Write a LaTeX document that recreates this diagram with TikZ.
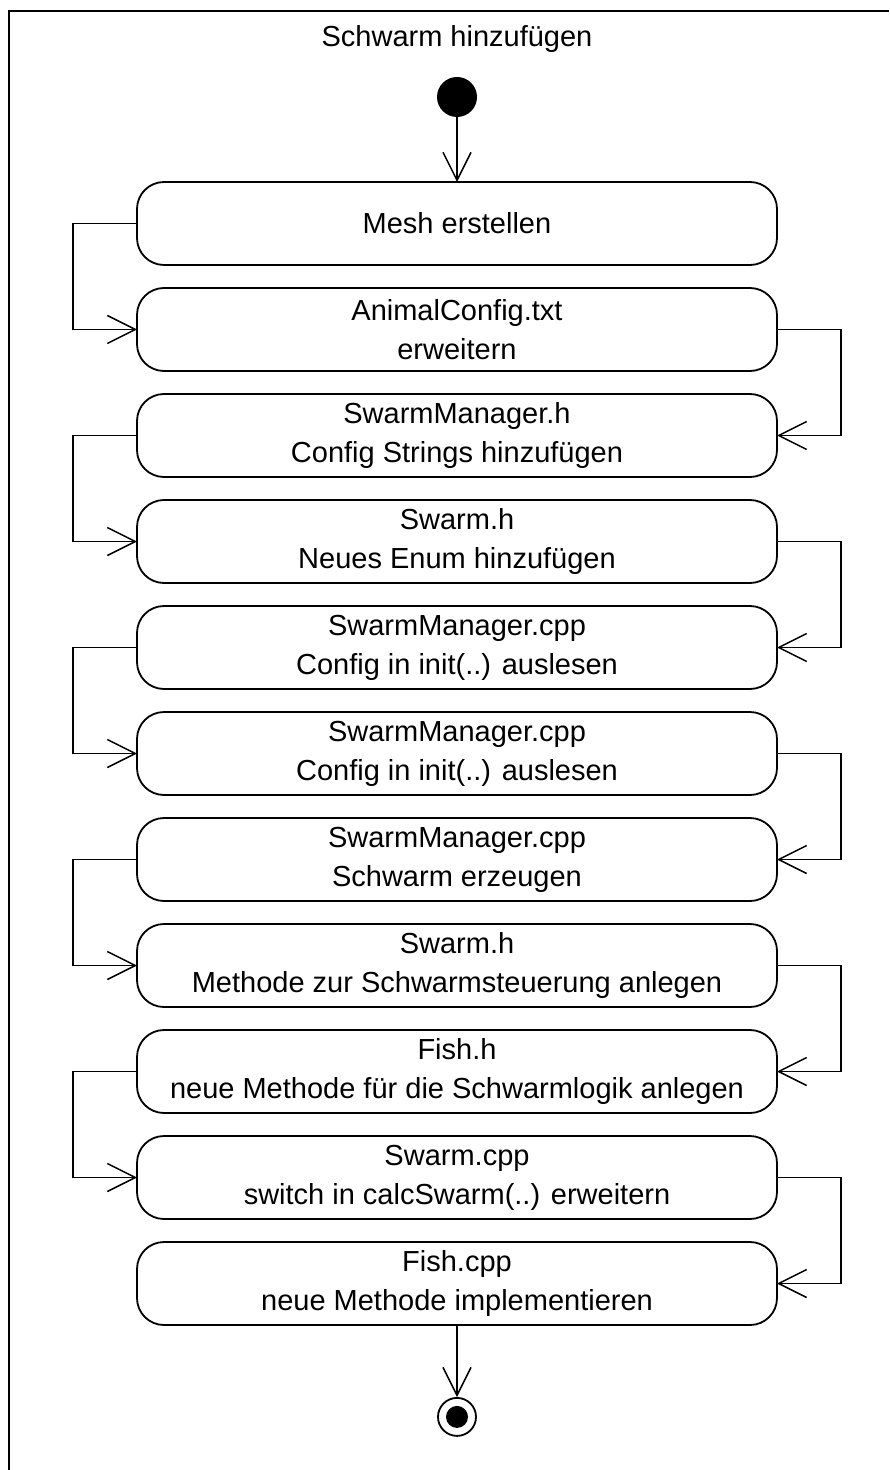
\documentclass[tikz,border=0pt]{standalone}
\usepackage{fontspec}
\setmainfont{Liberation Sans}
\usetikzlibrary{arrows.meta, positioning}

\begin{document}
\begin{tikzpicture}[
    node distance=11.5pt,
    act/.style={draw, line width=0.9pt, rounded corners=13.5pt, minimum width=320pt,
                minimum height=41.5pt, inner sep=0pt, outer sep=0pt, align=center,
                font=\fontsize{14.5}{19.5}\selectfont},
    flow/.style={line width=0.75pt, -{Straight Barb[length=14pt, width=14pt]}},
    startnode/.style={circle, fill=black, minimum size=20pt, inner sep=0pt},
    endnode/.style={circle, draw, line width=0.9pt, minimum size=19pt, inner sep=0pt,
                    path picture={\fill (path picture bounding box.center) circle (5.5pt);}}
]
    \useasboundingbox (0,0) rectangle (444.5pt,-735pt);
    % frame
    \draw[line width=1pt] (4.5pt,-735pt) -- (4.5pt,-5.5pt) -- (444.5pt,-5.5pt);
    \node[font=\fontsize{14.5}{17}\selectfont] (title) at (228.5pt,-19.5pt) {Schwarm hinzufügen};

    % activities
    \node[startnode] (start) at (228.5pt,-48.5pt) {};
    \node[act] (mesh) at (228.5pt,-111.75pt) {Mesh erstellen};
    \node[act, below=of mesh] (animalcfg) {AnimalConfig.txt\\erweitern};
    \node[act, below=of animalcfg] (mgrh) {SwarmManager.h\\Config Strings hinzufügen};
    \node[act, below=of mgrh] (swarmh) {Swarm.h\\Neues Enum hinzufügen};
    \node[act, below=of swarmh] (mgrinit) {SwarmManager.cpp\\Config in init(..) auslesen};
    \node[act, below=of mgrinit] (mgrinitb) {SwarmManager.cpp\\Config in init(..) auslesen};
    \node[act, below=of mgrinitb] (mgrcreate) {SwarmManager.cpp\\Schwarm erzeugen};
    \node[act, below=of mgrcreate] (swarmsteer) {Swarm.h\\Methode zur Schwarmsteuerung anlegen};
    \node[act, below=of swarmsteer] (fishh) {Fish.h\\neue Methode für die Schwarmlogik anlegen};
    \node[act, below=of fishh] (swarmcpp) {Swarm.cpp\\switch in calcSwarm(..) erweitern};
    \node[act, below=of swarmcpp] (fishcpp) {Fish.cpp\\neue Methode implementieren};
    \node[endnode, below=36pt of fishcpp] (stop) {};

    % flows
    \draw[flow] (start) -- (mesh);
    \draw[flow] (mesh.west) -- ++(-32pt,0) |- (animalcfg.west);
    \draw[flow] (animalcfg.east) -- ++(32pt,0) |- (mgrh.east);
    \draw[flow] (mgrh.west) -- ++(-32pt,0) |- (swarmh.west);
    \draw[flow] (swarmh.east) -- ++(32pt,0) |- (mgrinit.east);
    \draw[flow] (mgrinit.west) -- ++(-32pt,0) |- (mgrinitb.west);
    \draw[flow] (mgrinitb.east) -- ++(32pt,0) |- (mgrcreate.east);
    \draw[flow] (mgrcreate.west) -- ++(-32pt,0) |- (swarmsteer.west);
    \draw[flow] (swarmsteer.east) -- ++(32pt,0) |- (fishh.east);
    \draw[flow] (fishh.west) -- ++(-32pt,0) |- (swarmcpp.west);
    \draw[flow] (swarmcpp.east) -- ++(32pt,0) |- (fishcpp.east);
    \draw[flow] (fishcpp) -- (stop);
\end{tikzpicture}
\end{document}
